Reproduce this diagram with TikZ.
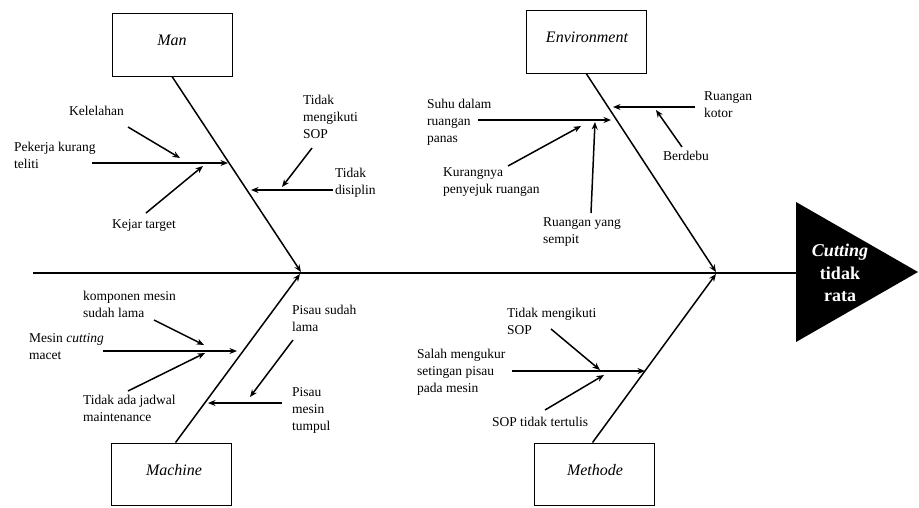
\documentclass[tikz,border=0pt]{standalone}
\usepackage{fontspec}
\setmainfont{Liberation Serif}
\usetikzlibrary{arrows.meta}
\begin{document}
\begin{tikzpicture}[x=1pt,y=-1pt,
  ln/.style={line width=1.5pt, draw=black},
  arr/.style={ln, -{Stealth[length=7.5pt,width=6pt]}},
  catbox/.style={draw, line width=0.9pt, minimum width=120pt, minimum height=63pt, inner sep=0pt},
  cat/.style={font=\fontsize{16}{19}\selectfont\itshape, inner sep=0pt},
  lbl/.style={font=\fontsize{13.5}{17}\selectfont, inner sep=0pt, align=left, anchor=north west},
  lblc/.style={font=\fontsize{13.5}{17}\selectfont, inner sep=0pt},
]
\fill[white] (0,0) rectangle (919,507);
\useasboundingbox (0,0) rectangle (919,507);

% category boxes
\node[catbox] (manbox) at (172,44.5) {};
\node[cat] (mantxt) at (172,40) {Man};
\node[catbox] (envbox) at (586.5,42) {};
\node[cat] (envtxt) at (587,37) {Environment};
\node[catbox, minimum height=62pt] (macbox) at (171.5,474) {};
\node[cat] (mactxt) at (174,470) {Machine};
\node[catbox, minimum height=62pt] (metbox) at (594.5,474) {};
\node[cat] (mettxt) at (595,470) {Methode};

% head
\coordinate (headL) at (796,273);
\coordinate (headT) at (796,202);
\coordinate (headTip) at (918,272);
\coordinate (headB) at (796,342);
\fill[black] (headT) -- (headTip) -- (headB) -- cycle;
\node[font=\fontsize{18}{22.5}\selectfont\bfseries, text=white, align=center, inner sep=0pt] (head) at (840,273) {\textit{Cutting}\\tidak\\rata};

% spine
\coordinate (tail) at (33,273);
\draw[line width=1.8pt] (tail) -- (headL);

% bones
\coordinate (manEnd) at (301,272);
\coordinate (envEnd) at (716,272);
\coordinate (macEnd) at (300,274);
\coordinate (metEnd) at (716,274);
\draw[arr] (manbox.south) -- (manEnd);
\draw[arr] (envbox.south) -- (envEnd);
\draw[arr] ([xshift=4pt]macbox.north) -- (macEnd);
\draw[arr] ([xshift=-2pt]metbox.north) -- (metEnd);

% Man causes
\node[lblc, anchor=west] (t1) at (69,111) {Kelelahan};
\node[lbl] (t2) at (14,142) {Pekerja kurang\\teliti};
\node[lblc] (t3) at (144,225) {Kejar target};
\node[lbl] (t4) at (303,95) {Tidak\\mengikuti\\SOP};
\node[lbl] (t5) at (335,168) {Tidak\\disiplin};
\coordinate (a1s) at (128,127); \coordinate (a1e) at (180,158);
\coordinate (a2s) at (92,163);  \coordinate (a2e) at (228,163);
\coordinate (a3s) at (146,213); \coordinate (a3e) at (203,166);
\coordinate (a4s) at (312,148); \coordinate (a4e) at (282,187);
\coordinate (a5s) at (333,190); \coordinate (a5e) at (251,190);
\foreach \i in {1,...,5} {\draw[arr] (a\i s) -- (a\i e);}

% Environment causes
\node[lbl] (e1) at (427,99) {Suhu dalam\\ruangan\\panas};
\node[lbl] (e2) at (704,91) {Ruangan\\kotor};
\node[lblc] (e3) at (686,156) {Berdebu};
\node[lbl] (e4) at (443,167) {Kurangnya\\penyejuk ruangan};
\node[lbl] (e5) at (543,217) {Ruangan yang\\sempit};
\coordinate (b1s) at (478,120); \coordinate (b1e) at (611,120);
\coordinate (b2s) at (695,107); \coordinate (b2e) at (613,107);
\coordinate (b3s) at (682,147); \coordinate (b3e) at (656,110);
\coordinate (b4s) at (508,166); \coordinate (b4e) at (581,126);
\coordinate (b5s) at (591,213); \coordinate (b5e) at (595,122);
\foreach \i in {1,...,5} {\draw[arr] (b\i s) -- (b\i e);}

% Machine causes
\node[lbl] (m1) at (83,291) {komponen mesin\\sudah lama};
\node[lbl] (m2) at (29,333) {Mesin \textit{cutting}\\macet};
\node[lbl] (m3) at (83,395) {Tidak ada jadwal\\maintenance};
\node[lbl] (m4) at (292,305) {Pisau sudah\\lama};
\node[lbl] (m5) at (292,387) {Pisau\\mesin\\tumpul};
\coordinate (c1s) at (154,320); \coordinate (c1e) at (204,345);
\coordinate (c2s) at (103,351); \coordinate (c2e) at (237,351);
\coordinate (c3s) at (128,391); \coordinate (c3e) at (205,353);
\coordinate (c4s) at (293,340); \coordinate (c4e) at (250,397);
\coordinate (c5s) at (282,403); \coordinate (c5e) at (208,403);
\foreach \i in {1,...,5} {\draw[arr] (c\i s) -- (c\i e);}

% Methode causes
\node[lbl] (d1t) at (507,308) {Tidak mengikuti\\SOP};
\node[lbl] (d2t) at (417,349) {Salah mengukur\\setingan pisau\\pada mesin};
\node[lblc] (d3t) at (540,422) {SOP tidak tertulis};
\coordinate (d1s) at (551,329); \coordinate (d1e) at (600,370);
\coordinate (d2s) at (512,371); \coordinate (d2e) at (645,371);
\coordinate (d3s) at (545,410); \coordinate (d3e) at (604,375);
\foreach \i in {1,...,3} {\draw[arr] (d\i s) -- (d\i e);}
\end{tikzpicture}
\end{document}
